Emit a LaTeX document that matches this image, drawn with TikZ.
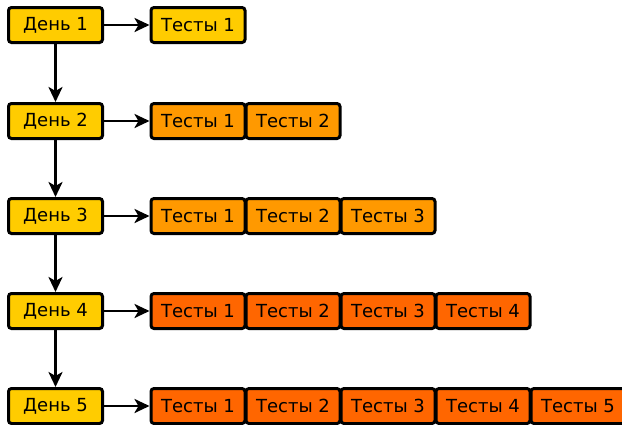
\documentclass[tikz,border=0pt]{standalone}
\usepackage{fontspec}
\setmainfont{DejaVu Sans}
\usetikzlibrary{arrows.meta}
\definecolor{dayfill}{HTML}{FFCC00}
\definecolor{midfill}{HTML}{FF9900}
\definecolor{hotfill}{HTML}{FF6600}
\tikzset{
  box/.style={draw=black, line width=3pt, rounded corners=3pt,
    minimum width=94pt, minimum height=35pt, inner sep=0pt,
    font=\fontsize{18}{20}\selectfont},
  daybox/.style={box, fill=dayfill},
  testbox/.style={box},
  link/.style={line width=2.8pt, -{Stealth[length=15pt,width=14pt,inset=4pt]}}
}
\begin{document}
\begin{tikzpicture}[x=1pt,y=-1pt]
\useasboundingbox (0,0) rectangle (622,424);
% day column
\foreach \i/\y in {1/25,2/121,3/216,4/311,5/406}{
  \node[daybox] (d\i) at (55.5,\y) {День \i};
}
% test rows: row r has r boxes
\node[testbox, fill=dayfill] (t11) at (198,25) {Тесты 1};
\foreach \j in {1,2}{
  \node[testbox, fill=midfill] (t2\j) at ({198+95*(\j-1)},121) {Тесты \j};
}
\foreach \j in {1,2,3}{
  \node[testbox, fill=midfill] (t3\j) at ({198+95*(\j-1)},216) {Тесты \j};
}
\foreach \j in {1,...,4}{
  \node[testbox, fill=hotfill] (t4\j) at ({198+95*(\j-1)},311) {Тесты \j};
}
\foreach \j in {1,...,5}{
  \node[testbox, fill=hotfill] (t5\j) at ({198+95*(\j-1)},406) {Тесты \j};
}
% connectors
\foreach \i in {1,...,5}{
  \draw[link] (d\i.east) -- (t\i1.west);
}
\foreach \i/\k in {1/2,2/3,3/4,4/5}{
  \draw[link] (d\i.south) -- (d\k.north);
}
\end{tikzpicture}
\end{document}
